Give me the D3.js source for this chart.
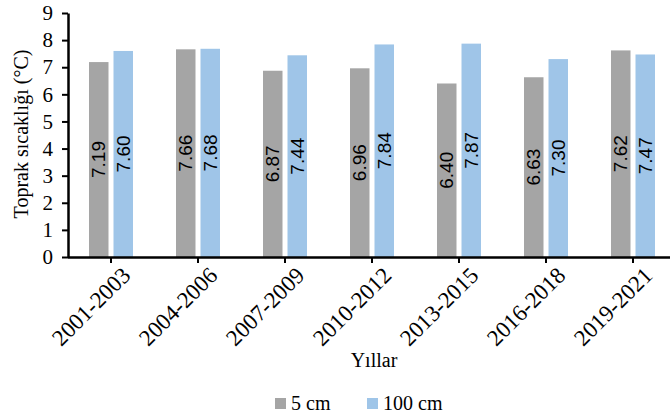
<!DOCTYPE html>
<html>
<head>
<meta charset="utf-8">
<script src="https://cdn.jsdelivr.net/npm/d3@7"></script>
<style>
body { margin: 0; background: #fff; }
svg text { font-family: 'Liberation Serif', 'Times New Roman', serif; fill: #000; }
.val { font-family: 'Liberation Sans', Arial, sans-serif; font-size: 19px; }
</style>
</head>
<body>
<div id="chart"></div>
<script>
'use strict';

let periods = ['2001-2003', '2004-2006', '2007-2009', '2010-2012', '2013-2015', '2016-2018', '2019-2021'];
let depth5 = [7.19, 7.66, 6.87, 6.96, 6.40, 6.63, 7.62];
let depth100 = [7.60, 7.68, 7.44, 7.84, 7.87, 7.30, 7.47];
let seriesNames = ['5 cm', '100 cm'];
let seriesColors = ['#a5a5a5', '#9fc5e8'];
let yTicks = [0, 1, 2, 3, 4, 5, 6, 7, 8, 9];

let W = 670, H = 420;
let svg = d3.select('#chart')
	.append('svg')
		.attr('width', W)
		.attr('height', H)
	;

let x = d3.scaleBand().domain(periods).range([67.5, 676.5]);
let y = d3.scaleLinear().domain([0, 9]).range([257, 13]);

let barW = 19.5, gap = 5;
let series = [depth5, depth100];

// bars
for (let s = 0; s < series.length; ++s) {
	let g = svg.append('g');
	g.selectAll('rect')
		.data(series[s])
		.enter().append('rect')
			.attr('x', (d, i) => x(periods[i]) + x.bandwidth()/2 + (s == 0 ? -gap/2 - barW : gap/2))
			.attr('y', d => y(d))
			.attr('width', barW)
			.attr('height', d => y(0) - y(d))
			.attr('fill', seriesColors[s])
		;
	g.selectAll('text')
		.data(series[s])
		.enter().append('text')
			.classed('val', true)
			.attr('transform', (d, i) => {
				let cx = x(periods[i]) + x.bandwidth()/2 + (s == 0 ? -gap/2 - barW/2 : gap/2 + barW/2);
				let cy = (y(d) + y(0))/2;
				return 'translate(' + cx + ',' + cy + ') rotate(-90)';
			})
			.attr('text-anchor', 'middle')
			.attr('dy', '0.35em')
			.text(d => d.toFixed(2))
		;
}

// y axis
let yAxis = svg.append('g')
	.attr('transform', 'translate(68,0)')
	.call(d3.axisLeft(y).tickValues(yTicks).tickSize(6).tickSizeOuter(0).tickPadding(9));
yAxis.select('.domain').attr('stroke', '#000').attr('stroke-width', 2.5);
yAxis.selectAll('.tick line').attr('stroke', '#000').attr('stroke-width', 2);
yAxis.selectAll('.tick text')
	.attr('font-family', "'Liberation Serif', 'Times New Roman', serif")
	.attr('font-size', 21)
	.attr('fill', '#000');

// x axis
let xAxis = svg.append('g')
	.attr('transform', 'translate(0,257)')
	.call(d3.axisBottom(x).tickSize(6).tickSizeOuter(0).tickPadding(4));
xAxis.select('.domain').attr('stroke', '#000').attr('stroke-width', 2.5);
xAxis.selectAll('.tick line').attr('stroke', '#000').attr('stroke-width', 2);
xAxis.selectAll('.tick text')
	.attr('font-family', "'Liberation Serif', 'Times New Roman', serif")
	.attr('font-size', 23)
	.attr('fill', '#000')
	.attr('text-anchor', 'end')
	.attr('dy', '0.35em')
	.attr('transform', 'translate(8,7) rotate(-45)');

// axis titles
svg.append('text')
	.attr('transform', 'translate(21,134) rotate(-90)')
	.attr('text-anchor', 'middle')
	.attr('dy', '0.35em')
	.attr('font-size', 20)
	.text('Toprak sıcaklığı (°C)');

svg.append('text')
	.attr('x', 374)
	.attr('y', 367)
	.attr('text-anchor', 'middle')
	.attr('font-size', 20)
	.text('Yıllar');

// legend
let legendX = [275, 367];
let legend = svg.append('g');
for (let s = 0; s < seriesNames.length; ++s) {
	legend.append('rect')
		.attr('x', legendX[s])
		.attr('y', 398)
		.attr('width', 11)
		.attr('height', 11)
		.attr('fill', seriesColors[s]);
	legend.append('text')
		.attr('x', legendX[s] + 16)
		.attr('y', 410)
		.attr('font-size', 20)
		.text(seriesNames[s]);
}
</script>
</body>
</html>
